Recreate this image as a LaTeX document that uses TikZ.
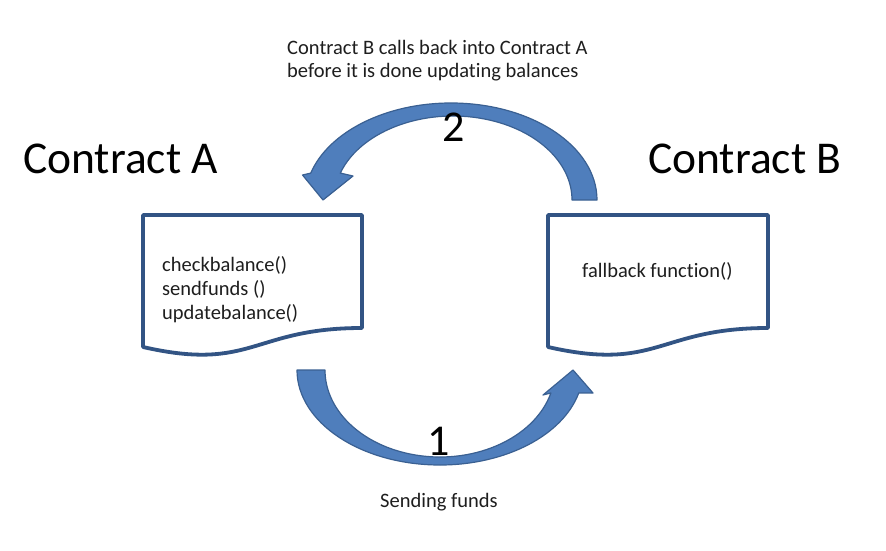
\documentclass[tikz,border=0pt]{standalone}
\usepackage{fontspec}
\setmainfont{Carlito}[Ligatures=NoCommon]
\usetikzlibrary{calc}
\definecolor{arrowfill}{RGB}{79,126,188}
\definecolor{arrowedge}{RGB}{58,96,146}
\definecolor{docedge}{RGB}{50,84,132}
\definecolor{txt}{RGB}{30,30,30}
\begin{document}
\begin{tikzpicture}[x=1pt,y=1pt,
  doc/.style={draw=docedge, line width=3.8pt, fill=white, line join=round},
  bigarrow/.style={fill=arrowfill, draw=arrowedge, line width=1.2pt, line join=round},
  small/.style={font=\fontsize{20.5}{23}\selectfont, inner sep=0pt, anchor=base west, text=txt},
  title/.style={font=\fontsize{45.5}{50}\selectfont, inner sep=0pt, anchor=base west, text=black},
  num/.style={font=\fontsize{44}{48}\selectfont, inner sep=0pt, anchor=base, text=black}]
\useasboundingbox[fill=white] (0,0) rectangle (886,550);

% documents
\draw[doc] (143,335) -- (362,335) -- (362,222) .. controls (252.5,222) and (252.5,178) .. (143,203) -- cycle;
\draw[doc] (548,335) -- (768,335) -- (768,222) .. controls (658,222) and (658,178) .. (548,203) -- cycle;

% arrow 2 (top, B -> A)
\filldraw[bigarrow] (597,350) arc[start angle=0, end angle=163.9, x radius=146pt, y radius=97pt]
  -- (302.5,375) -- (323,350) -- (353,374)
  -- ($(453,350)+(161.3:119pt and 84pt)$)
  arc[start angle=161.3, end angle=0, x radius=119pt, y radius=84pt] -- cycle;

% arrow 1 (bottom, A -> B)
\filldraw[bigarrow] (297,180) arc[start angle=180, end angle=346, x radius=143pt, y radius=95pt]
  -- (593,157) -- (573,180) -- (543,155)
  -- ($(440,180)+(344.7:115pt and 87pt)$)
  arc[start angle=344.7, end angle=180, x radius=115pt, y radius=87pt] -- cycle;

% texts
\node[small] (t1) at (287,495) {Contract B calls back into Contract A};
\node[small] (t2) at (287,472) {before it is done updating balances};
\node[title] (ca) at (23,377) {Contract A};
\node[title] (cb) at (648,377) {Contract B};
\node[small] (a1) at (162,279) {checkbalance()};
\node[small] (a2) at (162,255) {sendfunds ()};
\node[small] (a3) at (162,231) {updatebalance()};
\node[small] (b1) at (582,273) {fallback function()};
\node[small] (sf) at (380,43) {Sending funds};
\node[num] (n2) at (454,408) {2};
\node[num] (n1) at (439,95) {1};
\end{tikzpicture}
\end{document}
